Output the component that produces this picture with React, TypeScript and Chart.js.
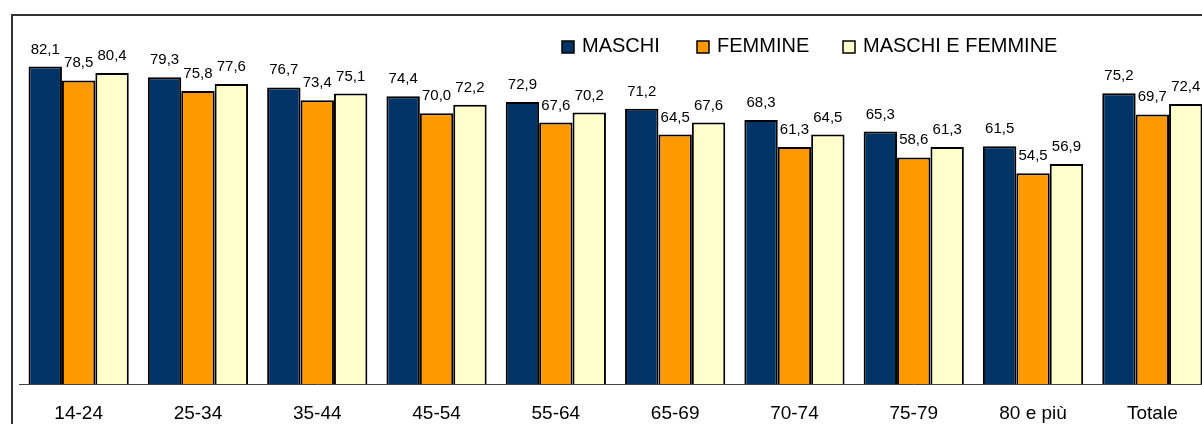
import React, { useEffect, useRef } from "react";
import { Chart, registerables } from "chart.js";

Chart.register(...registerables);

const categories = ["14-24", "25-34", "35-44", "45-54", "55-64", "65-69", "70-74", "75-79", "80 e più", "Totale"];
const maschi = [82.1, 79.3, 76.7, 74.4, 72.9, 71.2, 68.3, 65.3, 61.5, 75.2];
const femmine = [78.5, 75.8, 73.4, 70.0, 67.6, 64.5, 61.3, 58.6, 54.5, 69.7];
const maschiEFemmine = [80.4, 77.6, 75.1, 72.2, 70.2, 67.6, 64.5, 61.3, 56.9, 72.4];
const seriesNames = ["MASCHI", "FEMMINE", "MASCHI E FEMMINE"];
const seriesColors = ["#003366", "#FF9900", "#FFFFCC"];

const FONT = "'Liberation Sans', Arial, sans-serif";

const framePlugin = {
  id: "frame",
  beforeDraw(chart: any) {
    const ctx = chart.ctx;
    ctx.save();
    ctx.fillStyle = "#ffffff";
    ctx.fillRect(0, 0, chart.width, chart.height);
    ctx.strokeStyle = "#333333";
    ctx.lineWidth = 2;
    ctx.beginPath();
    ctx.moveTo(12, chart.height + 5);
    ctx.lineTo(12, 15);
    ctx.lineTo(chart.width + 5, 15);
    ctx.stroke();
    ctx.restore();
  },
};

const valueLabelPlugin = {
  id: "valueLabels",
  afterDatasetsDraw(chart: any) {
    const ctx = chart.ctx;
    ctx.save();
    ctx.font = `15px ${FONT}`;
    ctx.fillStyle = "#000000";
    ctx.textAlign = "center";
    ctx.textBaseline = "alphabetic";
    chart.data.datasets.forEach((ds: any, i: number) => {
      const meta = chart.getDatasetMeta(i);
      meta.data.forEach((bar: any, j: number) => {
        const v = ds.data[j] as number;
        const txt = v.toFixed(1).replace(".", ",");
        ctx.fillText(txt, bar.x, bar.y - 13);
      });
    });
    ctx.restore();
  },
};

const legendPlugin = {
  id: "customLegend",
  afterDraw(chart: any) {
    const ctx = chart.ctx;
    const boxX = [562, 697, 843];
    ctx.save();
    ctx.font = `20px ${FONT}`;
    ctx.textBaseline = "alphabetic";
    ctx.textAlign = "left";
    chart.data.datasets.forEach((ds: any, i: number) => {
      const x = boxX[i];
      ctx.fillStyle = ds.backgroundColor;
      ctx.fillRect(x, 41, 12, 12);
      ctx.strokeStyle = "#000000";
      ctx.lineWidth = 1.5;
      ctx.strokeRect(x, 41, 12, 12);
      ctx.fillStyle = "#000000";
      ctx.fillText(ds.label, x + 20, 52);
    });
    ctx.restore();
  },
};

export default function App() {
  const ref = useRef<HTMLCanvasElement | null>(null);
  useEffect(() => {
    if (!ref.current) return;
    const values = [maschi, femmine, maschiEFemmine];
    const chart = new Chart(ref.current, {
      type: "bar",
      data: {
        labels: categories,
        datasets: values.map((d, i) => ({
          label: seriesNames[i],
          data: d,
          backgroundColor: seriesColors[i],
          borderColor: "#000000",
          borderWidth: 2,
          categoryPercentage: 0.84,
          barPercentage: 1.0,
        })),
      },
      options: {
        animation: false,
        responsive: false,
        maintainAspectRatio: false,
        layout: { padding: { left: 19, top: 36, right: 0, bottom: 0 } },
        plugins: {
          legend: { display: false },
          tooltip: { enabled: false },
        },
        scales: {
          x: {
            grid: { display: false, drawTicks: false },
            border: { display: true, color: "#444444", width: 1 },
            ticks: {
              color: "#000000",
              font: { size: 19, family: FONT },
              padding: 18,
              maxRotation: 0,
              autoSkip: false,
            },
            afterFit: (s: any) => {
              s.height = 40;
            },
          },
          y: {
            display: false,
            min: 0,
            max: 90,
          },
        },
      },
      plugins: [framePlugin, valueLabelPlugin, legendPlugin],
    });
    return () => chart.destroy();
  }, []);

  return (
    <div
      style={{
        position: "fixed",
        left: 0,
        top: 0,
        width: 1202,
        height: 424,
        overflow: "hidden",
        background: "#ffffff",
      }}
    >
      <canvas ref={ref} width={1212} height={424} style={{ display: "block", width: 1212, height: 424 }} />
    </div>
  );
}
